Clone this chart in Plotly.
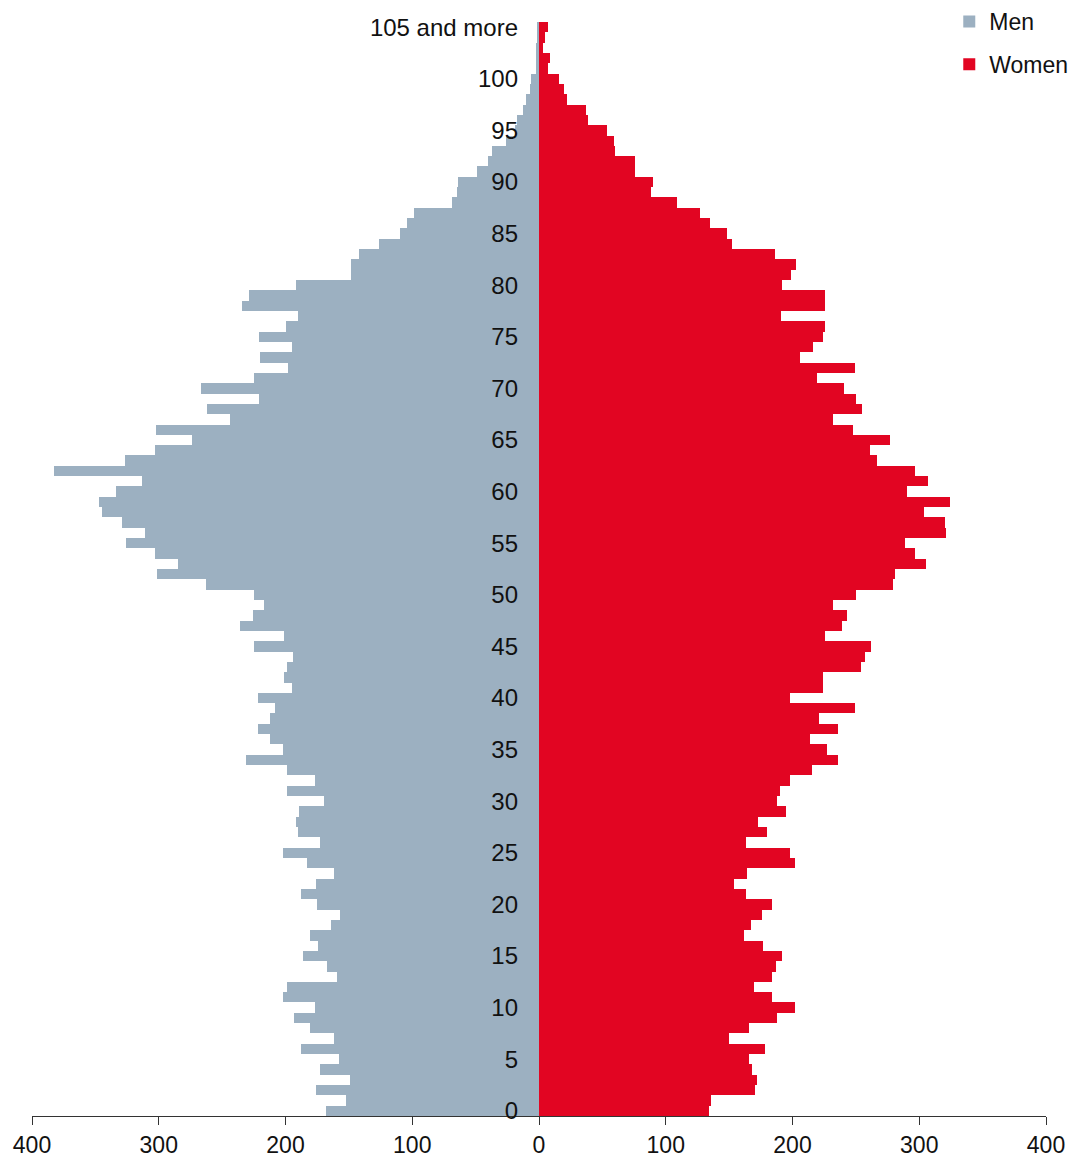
import plotly.graph_objects as go

# ages 0..105 ("105 and more" is the last class)
ages = list(range(106))

men = [168, 152, 176, 149, 173, 158, 188, 162, 181, 193,
       177, 202, 199, 159, 167, 186, 174, 181, 164, 157,
       175, 188, 176, 162, 183, 202, 173, 190, 192, 189,
       170, 199, 177, 199, 231, 202, 212, 222, 212, 208,
       222, 195, 201, 199, 194, 225, 201, 236, 226, 217,
       225, 263, 301, 285, 303, 326, 311, 329, 345, 347,
       334, 313, 383, 327, 303, 274, 302, 244, 262, 221,
       267, 225, 198, 220, 195, 221, 200, 190, 234, 229,
       192, 148, 148, 142, 126, 110, 104, 99, 69, 65,
       64, 49, 40, 37, 26, 19, 17, 13, 10, 7,
       6, 2, 2, 2, 1, 1]

women = [134.5, 136, 170.5, 172, 168, 166, 178, 150, 166, 188,
         202, 184, 170, 184, 187, 192, 177, 161.5, 167, 176,
         184, 163, 154, 164, 202, 198, 163, 180, 173, 195,
         188, 190, 198, 215, 236, 227, 214, 236, 221, 249,
         198, 224, 224, 254, 257, 262, 226, 239, 243, 232,
         250, 279, 281, 305, 297, 289, 321, 320, 304, 324,
         290, 307, 297, 267, 261, 277, 248, 232, 255, 250,
         241, 219, 249, 206, 216, 224, 226, 191, 226, 226,
         192, 199, 203, 186, 152, 148, 135, 127, 109, 88,
         90, 76, 76, 60, 59, 54, 39, 37, 22, 20,
         16, 7, 9, 3, 5, 7]

y_tickvals = list(range(0, 101, 5)) + [105]
y_ticktext = [str(v) for v in range(0, 101, 5)] + ["105 and more"]
x_tickvals = [-400, -300, -200, -100, 0, 100, 200, 300, 400]
x_ticktext = ["400", "300", "200", "100", "0", "100", "200", "300", "400"]

MEN_COLOR = "#9cb0c1"
WOMEN_COLOR = "#e20522"

fig = go.Figure()
fig.add_trace(go.Bar(
    y=ages, x=[-v for v in men], orientation="h", name="Men",
    marker=dict(color=MEN_COLOR, line=dict(width=0)),
    legendgroup="m",
))
fig.add_trace(go.Bar(
    y=ages, x=women, orientation="h", name="Women",
    marker=dict(color=WOMEN_COLOR, line=dict(width=0)),
    legendgroup="w",
))

fig.update_layout(
    width=1069, height=1157,
    margin=dict(l=32, r=23, t=22, b=41, autoexpand=False),
    plot_bgcolor="white", paper_bgcolor="white",
    barmode="overlay", bargap=0,
    font=dict(family="Liberation Sans, Arial, sans-serif", size=24, color="#111111"),
    legend=dict(xref="container", yref="container", x=0.888, y=1.0,
                xanchor="left", yanchor="top",
                font=dict(size=23), tracegroupgap=10,
                itemwidth=30, bgcolor="rgba(0,0,0,0)"),
    xaxis=dict(range=[-400, 400], tickvals=x_tickvals, ticktext=x_ticktext,
               showgrid=False, showline=True, linecolor="#333333", linewidth=1,
               ticks="outside", ticklen=8, tickcolor="#333333",
               tickfont=dict(size=23),
               zeroline=True, zerolinecolor="white", zerolinewidth=1.5),
    yaxis=dict(range=[-0.5, 105.5], tickvals=y_tickvals, ticktext=y_ticktext,
               anchor="free", position=0.5, showgrid=False, showline=False,
               zeroline=False, ticks="", ticklabelstandoff=21),
)

fig.write_html("out.html", config={"displayModeBar": False},
               post_script="document.body.style.margin='0';")
